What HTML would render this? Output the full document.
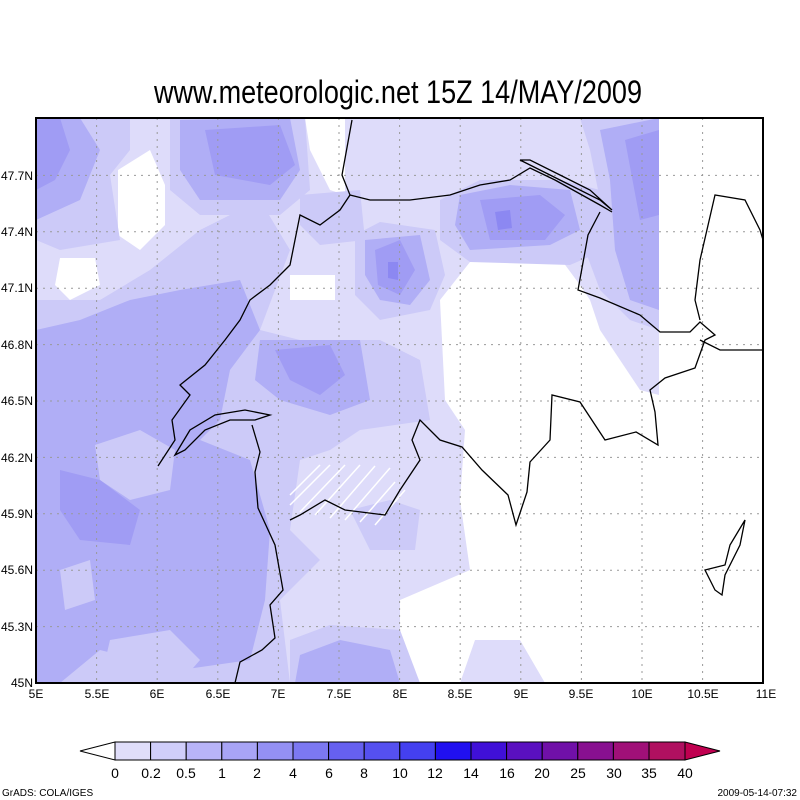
<!DOCTYPE html>
<html><head><style>body{margin:0;background:#fff}svg{display:block}</style></head><body>
<svg width="800" height="800" viewBox="0 0 800 800" xmlns="http://www.w3.org/2000/svg" font-family="Liberation Sans, sans-serif">
<rect width="800" height="800" fill="#fff"/>
<text x="398" y="103" font-size="32" text-anchor="middle" textLength="488" lengthAdjust="spacingAndGlyphs">www.meteorologic.net  15Z 14/MAY/2009</text>
<clipPath id="c"><rect x="36" y="118" width="623" height="565"/></clipPath>
<g clip-path="url(#c)">
<rect x="36" y="118" width="623" height="565" fill="#dedcfa"/>
<g fill="#fff">
<polygon points="118,170 150,150 165,185 165,225 140,250 118,235"/>
<polygon points="60,258 95,258 100,285 70,300 55,285"/>
<polygon points="305,118 345,118 345,195 330,190 310,150"/>
<polygon points="290,275 335,275 335,300 290,300"/>
<polygon points="440,300 470,262 560,258 580,285 590,300 600,330 640,390 659,395 659,683 545,683 520,640 475,640 460,683 400,683 400,600 470,570 460,500 465,430 445,400"/>
</g>
<g fill="#cccaf8">
<polygon points="36,118 130,118 130,150 110,175 120,240 60,250 36,240"/>
<polygon points="36,300 100,300 150,270 200,230 260,200 290,250 260,330 300,340 380,340 420,360 430,420 360,430 330,450 300,460 290,530 320,560 280,600 290,683 36,683"/>
<polygon points="170,118 305,118 310,190 280,215 200,215 170,190"/>
<polygon points="300,195 360,190 365,240 320,245 300,225"/>
<polygon points="355,235 380,222 435,230 445,275 430,310 380,320 355,295"/>
<polygon points="440,200 480,180 560,180 600,190 605,250 570,265 470,262 440,240"/>
<polygon points="580,118 659,118 659,330 630,320 600,290 585,250 600,200 590,150"/>
<polygon points="290,640 330,625 400,630 420,683 290,683"/>
<polygon points="350,510 390,500 420,510 415,550 370,550"/>
</g>
<g fill="#b0aef6">
<polygon points="36,118 80,118 100,150 80,200 36,220"/>
<polygon points="36,330 80,320 130,300 180,290 240,280 260,330 230,370 220,420 200,440 250,460 270,530 265,600 250,660 180,670 100,650 60,683 36,683"/>
<polygon points="180,120 290,118 300,170 280,200 200,200 180,170"/>
<polygon points="260,340 360,340 370,400 330,415 280,400 255,380"/>
<polygon points="365,240 420,235 430,280 410,305 380,300 365,275"/>
<polygon points="460,195 510,185 570,190 580,230 550,245 470,250 455,225"/>
<polygon points="600,130 659,118 659,310 630,300 615,250 610,180"/>
<polygon points="300,655 340,640 390,650 400,683 295,683"/>
</g>
<g fill="#cccaf8">
<polygon points="95,445 140,430 175,450 170,490 130,500 100,480"/>
<polygon points="60,570 90,560 95,600 65,610"/>
<polygon points="110,640 170,630 200,660 180,683 100,683"/>
</g>
<g fill="#a09cf4">
<polygon points="60,470 100,480 140,510 130,545 80,540 60,510"/>
<polygon points="36,120 60,118 70,150 55,180 36,190"/>
<polygon points="205,130 280,125 295,165 270,185 215,175"/>
<polygon points="275,350 330,345 345,375 320,395 290,380"/>
<polygon points="375,250 400,240 415,270 400,295 378,285"/>
<polygon points="480,200 540,195 565,215 545,240 490,240"/>
<polygon points="625,140 659,130 659,215 640,220"/>
</g>
<g fill="#8c88f2"><polygon points="495,212 510,210 512,228 498,230"/><polygon points="388,262 398,262 398,280 388,278"/></g>
</g>
<g stroke="#999" stroke-width="1" stroke-dasharray="2,5">
<path d="M96.6 118V683M157.2 118V683M217.8 118V683M278.4 118V683M339 118V683M399.6 118V683M460.2 118V683M520.8 118V683M581.4 118V683M642 118V683M702.6 118V683"/>
<path d="M36 626.6H763M36 570.2H763M36 513.8H763M36 457.4H763M36 401H763M36 344.6H763M36 288.2H763M36 231.8H763M36 175.4H763"/>
</g>
<g stroke="#fff" stroke-width="1.5">
<path d="M290 505l40-40M300 512l45-47M315 515l45-50M330 518l45-52M345 520l45-52M360 522l35-40M375 525l30-35M290 495l30-30"/>
</g>
<g fill="none" stroke="#000" stroke-width="1.3">
<path d="M235,683 240,662 262,650 275,638 270,605 283,590 275,545 258,508 255,472 260,452 252,425"/>
<path d="M158,466 175,440 172,420 190,395 180,385 205,365 225,340 240,320 250,300 270,285 290,265 300,215 320,225 340,210 350,195 342,175 352,120"/>
<path d="M350,195 370,200 410,200 450,195 480,185 510,180 530,168 555,180 600,205 612,212"/>
<path d="M520,160 540,170 570,185 600,200 612,210 590,190 560,175 530,160Z"/>
<path d="M600,212 588,235 578,290 600,298 640,315 660,332 690,332 700,322 715,335 705,340 695,368 665,378 650,390 655,412 658,445 636,432 605,440 580,402 552,395 550,440 530,462 527,492 516,525 508,495 482,470 462,447 440,440 420,420 412,440 420,460 400,490 385,515 345,510 325,500 300,515 290,520"/>
<path d="M700,320 695,300 700,260 715,195 745,200 760,230 763,240"/>
<path d="M700,340 720,350 763,350"/>
<path d="M175,455 190,430 215,415 245,410 270,415 255,420 230,420 205,430 185,450Z"/>
<path d="M705,570 725,565 730,545 745,520 740,545 725,575 722,595 715,590Z"/>
</g>
<rect x="36" y="118" width="727" height="565" fill="none" stroke="#000" stroke-width="2"/>
<g font-size="12" text-anchor="middle">
<text x="36" y="698">5E</text><text x="97" y="698">5.5E</text><text x="157" y="698">6E</text><text x="218" y="698">6.5E</text><text x="278" y="698">7E</text><text x="339" y="698">7.5E</text><text x="400" y="698">8E</text><text x="460" y="698">8.5E</text><text x="521" y="698">9E</text><text x="581" y="698">9.5E</text><text x="642" y="698">10E</text><text x="703" y="698">10.5E</text><text x="766" y="698">11E</text>
</g>
<g font-size="12" text-anchor="end">
<text x="33" y="687">45N</text><text x="33" y="631">45.3N</text><text x="33" y="574">45.6N</text><text x="33" y="518">45.9N</text><text x="33" y="462">46.2N</text><text x="33" y="405">46.5N</text><text x="33" y="349">46.8N</text><text x="33" y="292">47.1N</text><text x="33" y="236">47.4N</text><text x="33" y="180">47.7N</text>
</g>
<g stroke="#000" stroke-width="1">
<polygon points="115,742 80,751 115,760" fill="#fff"/>
<rect x="115" y="742" width="35.6" height="18" fill="#e0defa"/>
<rect x="150.6" y="742" width="35.6" height="18" fill="#d0cefa"/>
<rect x="186.2" y="742" width="35.6" height="18" fill="#b8b4f8"/>
<rect x="221.8" y="742" width="35.6" height="18" fill="#a8a4f6"/>
<rect x="257.4" y="742" width="35.6" height="18" fill="#9490f4"/>
<rect x="293" y="742" width="35.6" height="18" fill="#7c78f2"/>
<rect x="328.6" y="742" width="35.6" height="18" fill="#6660f0"/>
<rect x="364.2" y="742" width="35.6" height="18" fill="#5550f0"/>
<rect x="399.8" y="742" width="35.6" height="18" fill="#4440f0"/>
<rect x="435.4" y="742" width="35.6" height="18" fill="#2010f0"/>
<rect x="471" y="742" width="35.6" height="18" fill="#4010d8"/>
<rect x="506.6" y="742" width="35.6" height="18" fill="#5a10c0"/>
<rect x="542.2" y="742" width="35.6" height="18" fill="#7010a8"/>
<rect x="577.8" y="742" width="35.6" height="18" fill="#881090"/>
<rect x="613.4" y="742" width="35.6" height="18" fill="#a01078"/>
<rect x="649" y="742" width="36" height="18" fill="#b01060"/>
<polygon points="685,742 720,751 685,760" fill="#c00050"/>
</g>
<g font-size="14" text-anchor="middle">
<text x="115" y="778">0</text><text x="151" y="778">0.2</text><text x="186" y="778">0.5</text><text x="222" y="778">1</text><text x="257" y="778">2</text><text x="293" y="778">4</text><text x="329" y="778">6</text><text x="364" y="778">8</text><text x="400" y="778">10</text><text x="435" y="778">12</text><text x="471" y="778">14</text><text x="507" y="778">16</text><text x="542" y="778">20</text><text x="578" y="778">25</text><text x="614" y="778">30</text><text x="649" y="778">35</text><text x="685" y="778">40</text>
</g>
<text x="2" y="796" font-size="10">GrADS: COLA/IGES</text>
<text x="797" y="796" font-size="10" text-anchor="end">2009-05-14-07:32</text>
</svg>
</body></html>
